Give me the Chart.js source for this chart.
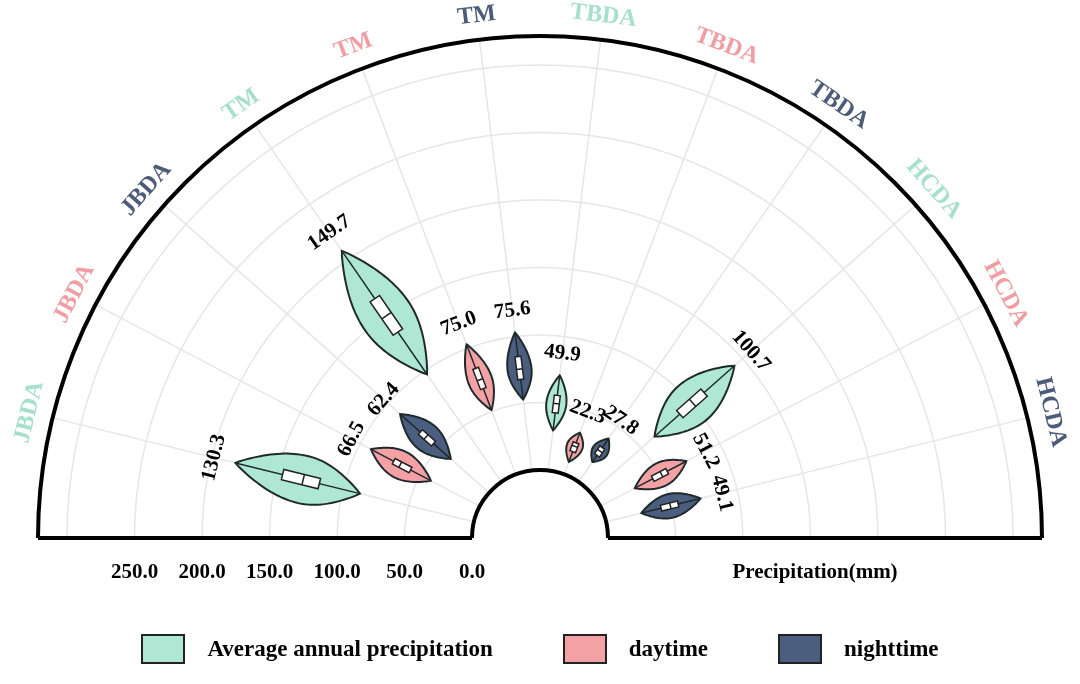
<!DOCTYPE html>
<html>
<head>
<meta charset="utf-8">
<script src="https://cdn.jsdelivr.net/npm/chart.js@4/dist/chart.umd.min.js"></script>
<style>
  body { margin: 0; background: #fff; font-family: "Liberation Serif", serif; }
  #wrap { position: relative; width: 1080px; height: 684px; }
  .legend { position: absolute; top: 634px; left: 0; width: 1080px; display: flex; justify-content: center; gap: 70px; font-weight: bold; font-size: 23px; }
  .legend span { display: inline-flex; align-items: center; }
  .legend i { display: inline-block; width: 40px; height: 26px; border: 2px solid #222; margin-right: 22px; }
</style>
</head>
<body>
<div id="wrap">
  <canvas id="c" width="1080" height="684"></canvas>
  <div class="legend">
    <span><i style="background:#aee8d4"></i>Average annual precipitation</span>
    <span><i style="background:#f4a1a6"></i>daytime</span>
    <span><i style="background:#4b5e7f"></i>nighttime</span>
  </div>
</div>
<script>
// категории по кругу (слева направо)
const categories = ["JBDA", "JBDA", "JBDA", "TM", "TM", "TM", "TBDA", "TBDA", "TBDA", "HCDA", "HCDA", "HCDA"];
const groups = ["avg", "day", "night", "avg", "day", "night", "avg", "day", "night", "avg", "day", "night"];
// значения (мм)
const meanValues = [130.3, 66.5, 62.4, 149.7, 75.0, 75.6, 49.9, 22.3, 27.8, 100.7, 51.2, 49.1];
const minValues  = [87, 41, 38, 97, 51, 53, 30, 10, 18, 63, 29, 27];
const maxValues  = [182, 91, 88, 208, 103, 103, 71, 33, 39, 142, 72, 72];
const q1Values   = [118, 58, 55, 135, 68, 68, 43, 18, 24, 88, 44, 42];
const q3Values   = [146, 72, 68, 165, 84, 85, 56, 25, 31, 112, 56, 55];
const widths     = [24, 14, 14, 26, 12, 12, 10, 8, 8, 22, 12, 12];
const tickLabels = ["250.0", "200.0", "150.0", "100.0", "50.0", "0.0"];
const tickValues = [250, 200, 150, 100, 50, 0];

const fills = { avg: "#aee8d4", day: "#f4a1a6", night: "#4b5e7f" };
const labelColors = { avg: "#a6e0cb", day: "#f09ea3", night: "#4b5b78" };

const INNER = 68, PX_PER_MM = 1.35, OUTER = 502;
const rOf = v => INNER + v * PX_PER_MM;
const step = 180 / 13;
const angleOf = i => (i + 1) * step; // градусы от левой стороны

let cur;
const polar = (r, deg) => {
  const a = deg * Math.PI / 180;
  return [cur.scales.x.getPixelForValue(-r * Math.cos(a)), cur.scales.y.getPixelForValue(r * Math.sin(a))];
};

const drawPlugin = {
  id: "polarViolin",
  afterDatasetsDraw(c) {
    cur = c;
    const ctx = c.ctx;
    const [cx, cy] = polar(0, 0);
    ctx.save();
    // сетка
    ctx.strokeStyle = "#e6e6e6"; ctx.lineWidth = 1.5;
    for (let v = 50; rOf(v) < OUTER; v += 50) {
      ctx.beginPath(); ctx.arc(cx, cy, rOf(v), Math.PI, 2 * Math.PI); ctx.stroke();
    }
    categories.forEach((_, i) => {
      const p1 = polar(INNER, angleOf(i)), p2 = polar(OUTER, angleOf(i));
      ctx.beginPath(); ctx.moveTo(p1[0], p1[1]); ctx.lineTo(p2[0], p2[1]); ctx.stroke();
    });
    // рамка
    ctx.strokeStyle = "#000"; ctx.lineWidth = 4;
    ctx.beginPath(); ctx.arc(cx, cy, OUTER, Math.PI, 2 * Math.PI); ctx.stroke();
    ctx.beginPath(); ctx.arc(cx, cy, INNER, Math.PI, 2 * Math.PI); ctx.stroke();
    ctx.beginPath();
    ctx.moveTo(cx - OUTER, cy); ctx.lineTo(cx - INNER, cy);
    ctx.moveTo(cx + INNER, cy); ctx.lineTo(cx + OUTER, cy); ctx.stroke();

    // скрипки
    categories.forEach((_, i) => {
      const th = angleOf(i);
      const a = th * Math.PI / 180;
      const dir = [-Math.cos(a), -Math.sin(a)]; // в пикселях (y вниз)
      const nrm = [-dir[1], dir[0]];
      const r0 = rOf(minValues[i]), r1 = rOf(maxValues[i]);
      const pk = (meanValues[i] - minValues[i]) / (maxValues[i] - minValues[i]);
      const n = 40, left = [], right = [];
      for (let k = 0; k <= n; k++) {
        const t = k / n;
        const f = t < pk ? 0.5 * t / pk : 0.5 + 0.5 * (t - pk) / (1 - pk);
        const w = widths[i] * Math.pow(Math.sin(Math.PI * f), 0.9);
        const r = r0 + (r1 - r0) * t;
        left.push([cx + dir[0] * r + nrm[0] * w, cy + dir[1] * r + nrm[1] * w]);
        right.push([cx + dir[0] * r - nrm[0] * w, cy + dir[1] * r - nrm[1] * w]);
      }
      ctx.beginPath();
      left.forEach((p, k) => k ? ctx.lineTo(p[0], p[1]) : ctx.moveTo(p[0], p[1]));
      right.reverse().forEach(p => ctx.lineTo(p[0], p[1]));
      ctx.closePath();
      ctx.fillStyle = fills[groups[i]]; ctx.fill();
      ctx.strokeStyle = "#1f2a2a"; ctx.lineWidth = 2; ctx.stroke();
      // линия и бокс
      const pa = polar(r0, th), pb = polar(r1, th);
      ctx.lineWidth = 1.5; ctx.beginPath(); ctx.moveTo(pa[0], pa[1]); ctx.lineTo(pb[0], pb[1]); ctx.stroke();
      const bw = Math.max(3, widths[i] * 0.22);
      const qa = rOf(q1Values[i]), qb = rOf(q3Values[i]);
      ctx.beginPath();
      ctx.moveTo(cx + dir[0] * qa + nrm[0] * bw, cy + dir[1] * qa + nrm[1] * bw);
      ctx.lineTo(cx + dir[0] * qb + nrm[0] * bw, cy + dir[1] * qb + nrm[1] * bw);
      ctx.lineTo(cx + dir[0] * qb - nrm[0] * bw, cy + dir[1] * qb - nrm[1] * bw);
      ctx.lineTo(cx + dir[0] * qa - nrm[0] * bw, cy + dir[1] * qa - nrm[1] * bw);
      ctx.closePath();
      ctx.fillStyle = "#fff"; ctx.fill(); ctx.strokeStyle = "#222"; ctx.lineWidth = 1.5; ctx.stroke();
      const rm = rOf(meanValues[i]);
      ctx.beginPath();
      ctx.moveTo(cx + dir[0] * rm + nrm[0] * bw, cy + dir[1] * rm + nrm[1] * bw);
      ctx.lineTo(cx + dir[0] * rm - nrm[0] * bw, cy + dir[1] * rm - nrm[1] * bw);
      ctx.stroke();

      // подпись значения
      const lp = polar(r1 + 22, th);
      ctx.save();
      ctx.translate(lp[0], lp[1]); ctx.rotate((th - 90) * Math.PI / 180);
      ctx.fillStyle = "#000"; ctx.font = "bold 21px 'Liberation Serif'";
      ctx.textAlign = "center"; ctx.textBaseline = "middle";
      ctx.fillText(meanValues[i].toFixed(1), 0, 0);
      ctx.restore();

      // подпись категории
      const cp = polar(OUTER + 24, th);
      ctx.save();
      ctx.translate(cp[0], cp[1]); ctx.rotate((th - 90) * Math.PI / 180);
      ctx.fillStyle = labelColors[groups[i]]; ctx.font = "bold 24px 'Liberation Serif'";
      ctx.textAlign = "center"; ctx.textBaseline = "middle";
      ctx.fillText(categories[i], 0, 0);
      ctx.restore();
    });

    // ось
    ctx.fillStyle = "#000"; ctx.font = "bold 21px 'Liberation Serif'";
    ctx.textAlign = "center"; ctx.textBaseline = "middle";
    tickLabels.forEach((t, k) => {
      ctx.fillText(t, cx - rOf(tickValues[k]), cy + 35);
    });
    ctx.fillText("Precipitation(mm)", cx + 275, cy + 35);
    ctx.restore();
  }
};

new Chart(document.getElementById("c"), {
  type: "scatter",
  data: { datasets: [{ data: [], pointRadius: 0 }] },
  options: {
    responsive: false,
    animation: false,
    layout: { padding: 0 },
    scales: {
      x: { display: false, min: -540, max: 540 },
      y: { display: false, min: -146, max: 538 }
    },
    plugins: { legend: { display: false }, tooltip: { enabled: false } }
  },
  plugins: [drawPlugin]
});
</script>
</body>
</html>
